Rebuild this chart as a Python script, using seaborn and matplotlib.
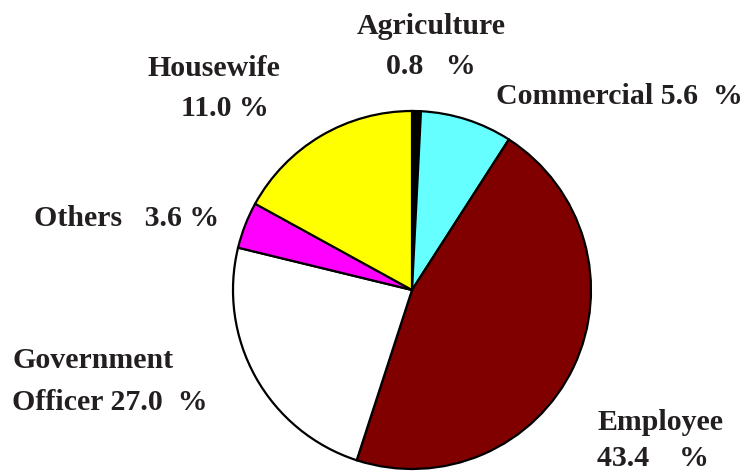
import matplotlib
matplotlib.use("Agg")
import matplotlib.pyplot as plt
import seaborn as sns

# Data
categories = ["Agriculture", "Commercial", "Employee", "Government Officer", "Others", "Housewife"]
label_pct = [0.8, 5.6, 43.4, 27.0, 3.6, 11.0]          # percentages printed in the labels
slice_share = [0.8, 8.3, 45.9, 23.8, 4.2, 17.0]        # slice sizes as drawn in the picture
colors = ["#000000", "#66FFFF", "#800000", "#FFFFFF", "#FF00FF", "#FFFF00"]

sns.set_theme(style="white")
plt.rcParams["font.family"] = ["Liberation Serif", "DejaVu Serif"]

W, H = 748, 474
fig = plt.figure(figsize=(W / 100, H / 100), dpi=100)
fig.patch.set_facecolor("white")

cx, cy, r = 412, 290, 179
ax = fig.add_axes([(cx - r) / W, (H - cy - r) / H, 2 * r / W, 2 * r / H])
wedges, _ = ax.pie(slice_share, colors=colors, startangle=90, counterclock=False,
                   radius=1.0, wedgeprops=dict(edgecolor="black", linewidth=1.6))
for w in wedges:
    w.set_clip_on(False)
ax.set_xlim(-1, 1)
ax.set_ylim(-1, 1)
ax.set_aspect("equal")
ax.axis("off")

p = {c: f"{v:.1f}" for c, v in zip(categories, label_pct)}
fs = 21.5
kw = dict(fontsize=fs, fontweight="bold", color="#231f20", va="center")

def put(x, y, s, ha="left"):
    fig.text(x / W, 1 - y / H, s, ha=ha, **kw)

put(431, 26, "Agriculture", ha="center")
put(431, 66, f"{p['Agriculture']}   %", ha="center")
put(214, 68, "Housewife", ha="center")
put(225, 108, f"{p['Housewife']} %", ha="center")
put(496, 97, f"Commercial {p['Commercial']}  %")
put(34, 219, f"Others   {p['Others']} %")
put(12, 360, "Government")
put(12, 402, f"Officer {p['Government Officer']}  %")
put(597, 422, "Employee")
put(597, 458, f"{p['Employee']}    %")

fig.savefig("out.png", dpi=100, facecolor="white")
